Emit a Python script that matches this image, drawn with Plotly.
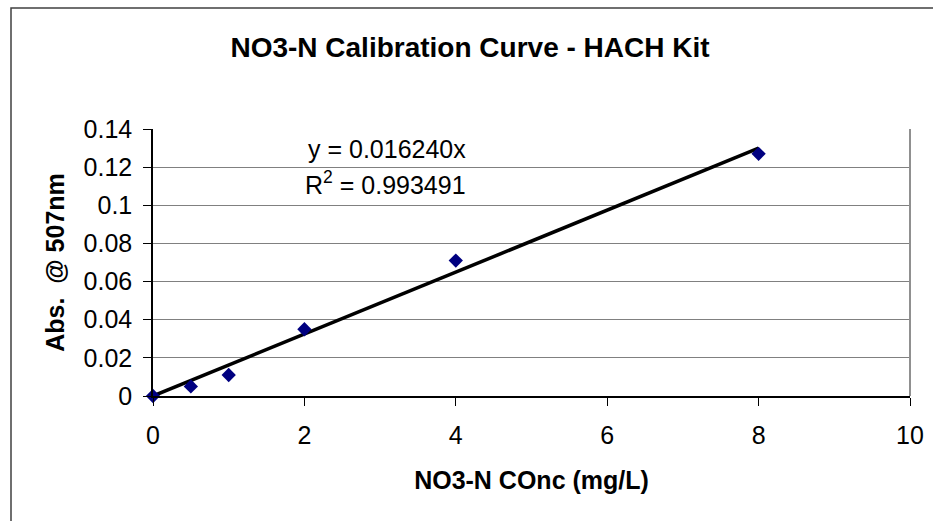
import plotly.graph_objects as go

# Standards: nitrate-nitrogen concentration (mg/L) and absorbance at 507 nm
conc = [0, 0.5, 1, 2, 4, 8]
absorb = [0.0, 0.005, 0.011, 0.035, 0.071, 0.127]

# Linear fit forced through the origin
slope = 0.016240
r_squared = 0.993491

x_ticks = [0, 2, 4, 6, 8, 10]
y_ticks = [0, 0.02, 0.04, 0.06, 0.08, 0.1, 0.12, 0.14]
y_tick_text = ["0", "0.02", "0.04", "0.06", "0.08", "0.1", "0.12", "0.14"]

FONT = "Liberation Sans, Arial, sans-serif"

fit_x = [0, max(conc)]
fit_y = [slope * v for v in fit_x]

fig = go.Figure()
fig.add_trace(go.Scatter(
    x=fit_x, y=fit_y, mode="lines",
    line=dict(color="black", width=3.5),
    hoverinfo="skip", cliponaxis=False,
))
fig.add_trace(go.Scatter(
    x=conc, y=absorb, mode="markers",
    marker=dict(symbol="diamond", size=11, color="#000080"),
    cliponaxis=False,
))

fig.update_layout(
    width=933, height=521,
    margin=dict(l=153, r=23, t=129, b=125),
    paper_bgcolor="white", plot_bgcolor="white",
    showlegend=False,
    font=dict(family=FONT, color="black", size=25),
    title=dict(
        text="<b>NO3-N Calibration Curve - HACH Kit</b>",
        x=470 / 933, xanchor="center", xref="container",
        y=1 - 47 / 521, yanchor="middle", yref="container",
        font=dict(family=FONT, size=28, color="black"),
    ),
    xaxis=dict(
        range=[0, 10], tickvals=x_ticks, ticktext=[str(v) for v in x_ticks],
        showgrid=False, zeroline=False, automargin=False,
        showline=True, linecolor="black", linewidth=1.5,
        ticks="outside", ticklen=8, tickcolor="black", tickwidth=1,
        tickfont=dict(size=25), ticklabelstandoff=8,
        title=dict(text="<b>NO3-N COnc (mg/L)</b>", font=dict(size=25), standoff=24),
    ),
    yaxis=dict(
        range=[0, 0.14], tickvals=y_ticks, ticktext=y_tick_text,
        showgrid=True, gridcolor="#808080", gridwidth=1.2,
        zeroline=False, automargin=False,
        showline=True, linecolor="black", linewidth=1.5,
        ticks="outside", ticklen=8, tickcolor="black", tickwidth=1,
        tickfont=dict(size=25), ticklabelstandoff=6,
        title=dict(text="<b>Abs.  @ 507nm</b>", font=dict(size=25), standoff=12),
    ),
    shapes=[
        # right edge of the plotting area
        dict(type="line", xref="paper", yref="paper", x0=1, x1=1, y0=0, y1=1,
             line=dict(color="#909090", width=2)),
        # outer chart frame
        dict(type="rect", xref="paper", yref="paper",
             x0=(11 - 153) / 757, x1=1.2, y0=-0.8, y1=1 + (129 - 8) / 267,
             line=dict(color="#404040", width=1.5), fillcolor="rgba(0,0,0,0)",
             layer="below"),
    ],
    annotations=[
        dict(text=f"y = {slope:.6f}x", xref="paper", yref="paper",
             x=(387 - 153) / 757, y=(396 - 149) / 267,
             showarrow=False, font=dict(size=25), xanchor="center", yanchor="middle"),
        dict(text=f"R<sup>2</sup> = {r_squared:.6f}", xref="paper", yref="paper",
             x=(385 - 153) / 757, y=(396 - 183) / 267,
             showarrow=False, font=dict(size=25), xanchor="center", yanchor="middle"),
    ],
)

fig.write_html("out.html")
